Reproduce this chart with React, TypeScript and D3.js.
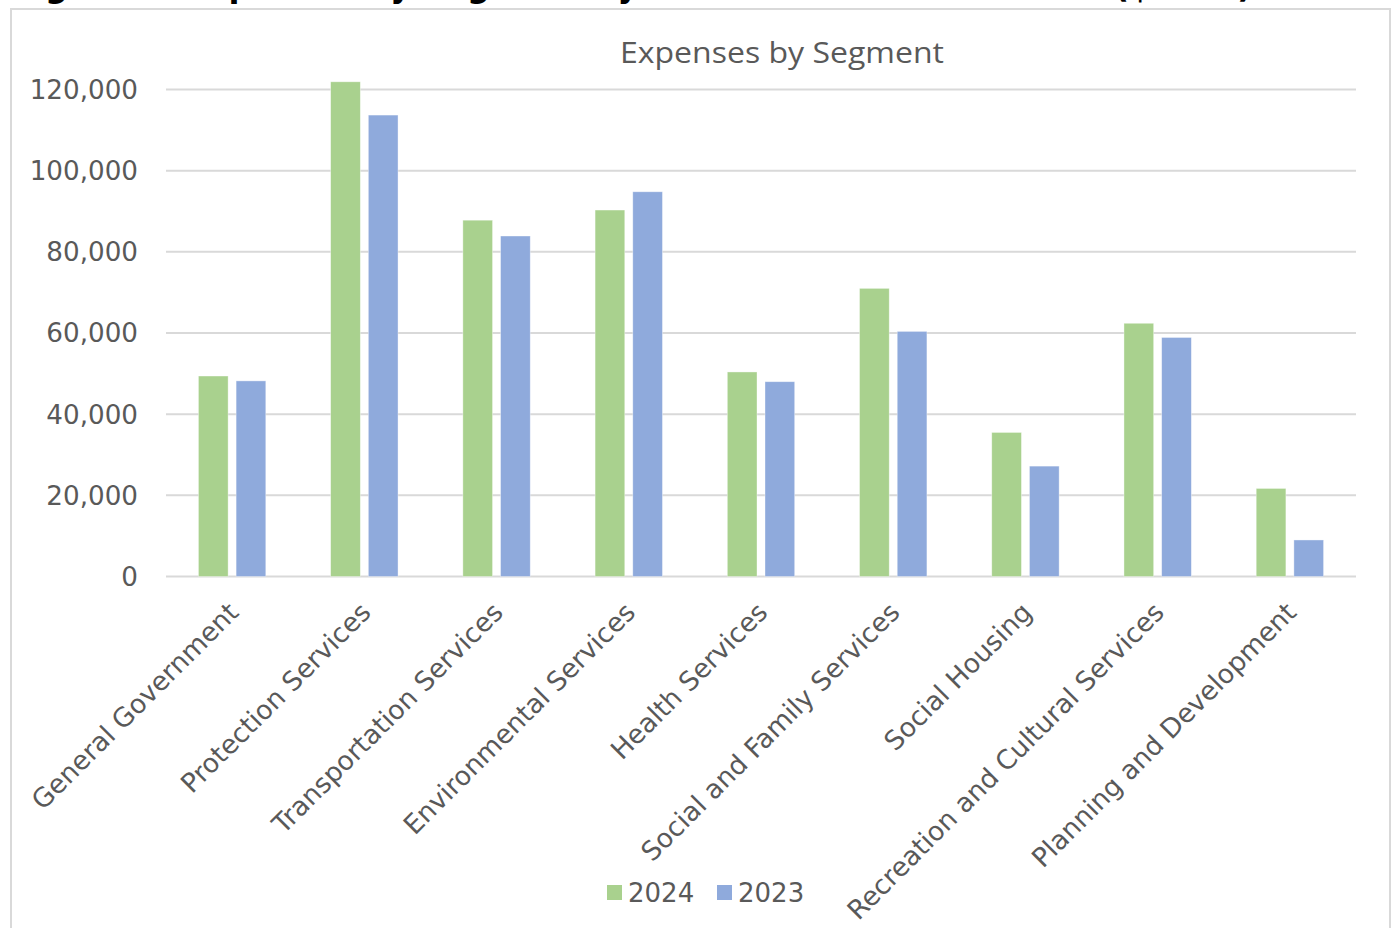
import React from "react";
import * as d3 from "d3";

const categories = [
  "General Government",
  "Protection Services",
  "Transportation Services",
  "Environmental Services",
  "Health Services",
  "Social and Family Services",
  "Social Housing",
  "Recreation and Cultural Services",
  "Planning and Development",
];
const seriesNames = ["2024", "2023"];
const values2024 = [49400, 121900, 87800, 90300, 50400, 71000, 35500, 62400, 21700];
const values2023 = [48200, 113700, 83900, 94800, 48000, 60400, 27200, 58900, 9000];
const yTicks = [0, 20000, 40000, 60000, 80000, 100000, 120000];
const colors = ["#a9d18e", "#8faadc"];
const chartTitle = "Expenses by Segment";
const pageTitle = "Figure 3: Expenses by Segment by Year Ended December 31 ($000s)";

const W = 1395;
const H = 928;
const plot = { left: 166, right: 1356, top: 89.5, bottom: 576.5 };
const FONT = "'DejaVu Sans', Verdana, sans-serif";
const TEXT = "#595959";

export default function App() {
  const x = d3.scaleBand<string>().domain(categories).range([plot.left, plot.right]).paddingInner(0).paddingOuter(0);
  const x1 = d3
    .scaleBand<string>()
    .domain(seriesNames)
    .range([0, x.bandwidth()])
    .paddingInner(0.212)
    .paddingOuter(0.86);
  const y = d3.scaleLinear().domain([0, 120000]).range([plot.bottom, plot.top]);
  const fmt = d3.format(",");
  const series = [values2024, values2023];

  return (
    <svg
      width={W}
      height={H}
      style={{ position: "absolute", left: 0, top: 0, background: "#fff" }}
    >
      <text
        x={12}
        y={-3}
        fontFamily="'DejaVu Sans', sans-serif"
        fontWeight="bold"
        fontSize={36}
        fill="#000"
        textLength={1240}
        lengthAdjust="spacingAndGlyphs"
      >
        {pageTitle}
      </text>
      <rect x={11} y={9} width={1379} height={H + 20} fill="#fff" stroke="#d9d9d9" strokeWidth={2} />

      <text
        x={782}
        y={63}
        textAnchor="middle"
        fontFamily="'Open Sans', sans-serif"
        fontSize={30}
        fill={TEXT}
        textLength={324}
        lengthAdjust="spacingAndGlyphs"
      >
        {chartTitle}
      </text>

      {yTicks.map((t) => (
        <g key={t}>
          <line x1={plot.left} x2={plot.right} y1={y(t)} y2={y(t)} stroke="#d9d9d9" strokeWidth={2} />
          <text
            x={138}
            y={y(t)}
            dy="0.36em"
            textAnchor="end"
            fontFamily={FONT}
            fontSize={26.2}
            fill={TEXT}
          >
            {fmt(t)}
          </text>
        </g>
      ))}

      {categories.map((c, i) => (
        <g key={c} transform={`translate(${x(c)},0)`}>
          {seriesNames.map((s, j) => {
            const v = series[j][i];
            return (
              <rect
                key={s}
                x={x1(s)}
                y={y(v)}
                width={x1.bandwidth()}
                height={y(0) - y(v)}
                fill={colors[j]}
                stroke="#ffffff"
                strokeOpacity={0.5}
                strokeWidth={0.75}
              />
            );
          })}
        </g>
      ))}

      {categories.map((c) => {
        const px = (x(c) as number) + x.bandwidth() / 2 + 8;
        const py = 614;
        return (
          <text
            key={c}
            transform={`translate(${px},${py}) rotate(-45)`}
            textAnchor="end"
            fontFamily={FONT}
            fontSize={26.6}
            fill={TEXT}
          >
            {c}
          </text>
        );
      })}

      <g>
        {seriesNames.map((s, j) => {
          const lx = [607, 717][j];
          return (
            <g key={s}>
              <rect x={lx} y={885} width={15} height={15} fill={colors[j]} />
              <text x={lx + 21} y={902} fontFamily={FONT} fontSize={26} fill={TEXT}>
                {s}
              </text>
            </g>
          );
        })}
      </g>
    </svg>
  );
}
